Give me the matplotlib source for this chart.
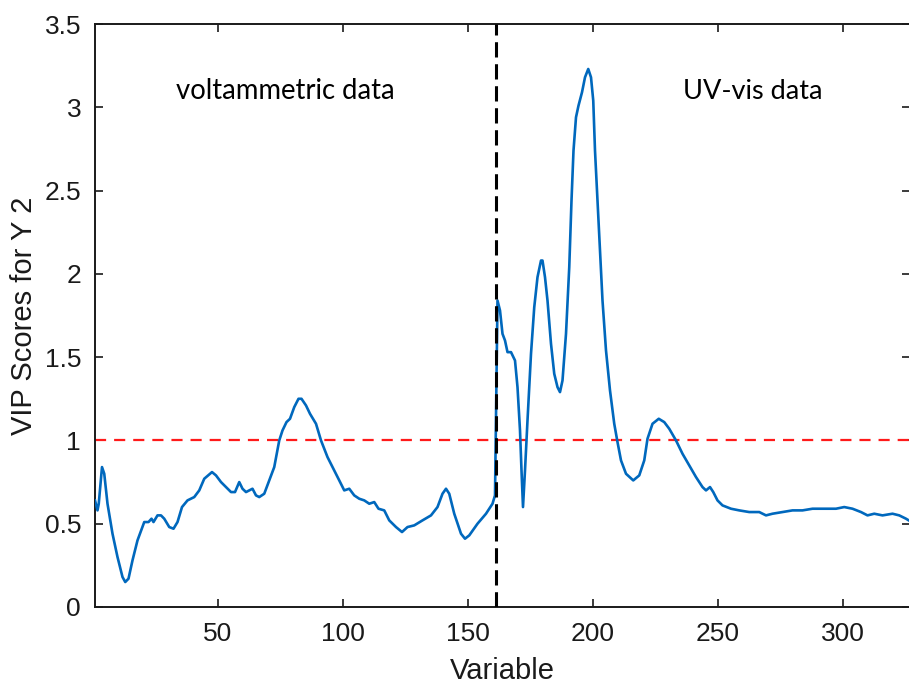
import matplotlib
matplotlib.use("Agg")
import matplotlib.pyplot as plt

# VIP scores (variable index, score)
variable = [
    1, 2, 2.5, 3.8, 4.7, 6, 8, 10, 12, 13.1, 14.4, 16, 18, 20.7, 22.4, 23.6,
    24.4, 26, 27.4, 28.7, 30.7, 32.4, 34, 35.8, 38, 40.7, 42.7, 44.7, 47.8,
    49.4, 51.4, 53.4, 55.4, 57, 58.7, 60, 61.4, 62.7, 64, 65.4, 66.7, 68.7,
    70.7, 72.7, 74.7, 76, 77.6, 79, 80.7, 82.4, 83.6, 85.4, 87, 89.4, 91.4,
    94, 96.7, 98.7, 100.7, 102.7, 104.7, 106.7, 108.7, 110.7, 112.7, 114.4,
    116.7, 118.7, 121.4, 123.8, 126, 128.7, 132, 135.4, 138, 140, 141.4,
    142.7, 144.7, 147.4, 149, 150.7, 154, 157.4, 160, 161,
    162, 163, 164, 165, 166, 167.4, 169, 170, 171, 171.6, 172.2, 173, 174,
    175.4, 176.7, 178, 179.4, 180, 181, 182, 183.4, 184.7, 186, 187, 188,
    189.4, 190.7, 191.6, 192.4, 193.4, 194.4, 195.8, 197, 198.3, 199.4,
    200.3, 201, 202, 203, 204, 205.4, 207, 208.7, 210, 211.4, 213.4, 216.3,
    218.7, 220.7, 222, 224, 226.5, 228.7, 230.7, 233.4, 236, 238.7, 241.4,
    244, 245.4, 247, 248.3, 250, 252, 255.4, 258.7, 262.7, 266.7, 269.4, 272,
    276, 280, 284, 288, 293.4, 297.4, 300.7, 304, 307.4, 310, 312.7, 316,
    320, 322.7, 325.4, 326.5,
]
vip = [
    0.64, 0.58, 0.62, 0.84, 0.80, 0.62, 0.44, 0.30, 0.18, 0.15, 0.17, 0.28,
    0.40, 0.51, 0.51, 0.53, 0.51, 0.55, 0.55, 0.53, 0.48, 0.47, 0.51, 0.60,
    0.64, 0.66, 0.70, 0.77, 0.81, 0.79, 0.75, 0.72, 0.69, 0.69, 0.75, 0.71,
    0.69, 0.70, 0.71, 0.67, 0.66, 0.68, 0.76, 0.84, 1.00, 1.06, 1.11, 1.13,
    1.20, 1.25, 1.25, 1.21, 1.16, 1.10, 1.00, 0.90, 0.82, 0.76, 0.70, 0.71,
    0.67, 0.65, 0.64, 0.62, 0.63, 0.59, 0.58, 0.52, 0.48, 0.45, 0.48, 0.49,
    0.52, 0.55, 0.60, 0.68, 0.71, 0.68, 0.56, 0.44, 0.41, 0.43, 0.50, 0.56,
    0.62, 0.67,
    1.84, 1.78, 1.64, 1.60, 1.53, 1.53, 1.48, 1.32, 1.06, 0.82, 0.60, 0.82,
    1.12, 1.52, 1.80, 1.98, 2.08, 2.08, 1.98, 1.84, 1.58, 1.40, 1.32, 1.29,
    1.36, 1.64, 2.04, 2.44, 2.74, 2.94, 3.01, 3.09, 3.18, 3.23, 3.18, 3.04,
    2.74, 2.44, 2.14, 1.84, 1.54, 1.30, 1.10, 0.99, 0.88, 0.80, 0.76, 0.79,
    0.88, 1.01, 1.10, 1.13, 1.11, 1.07, 1.00, 0.92, 0.85, 0.78, 0.72, 0.70,
    0.72, 0.69, 0.64, 0.61, 0.59, 0.58, 0.57, 0.57, 0.55, 0.56, 0.57, 0.58,
    0.58, 0.59, 0.59, 0.59, 0.60, 0.59, 0.57, 0.55, 0.56, 0.55, 0.56, 0.55,
    0.53, 0.52,
]

threshold = 1.0
split_at = 161.5
x_ticks = [50, 100, 150, 200, 250, 300]
y_ticks = [0, 0.5, 1, 1.5, 2, 2.5, 3, 3.5]
y_tick_labels = ["0", "0.5", "1", "1.5", "2", "2.5", "3", "3.5"]
block_labels = ["voltammetric data", "UV-vis data"]


def main() -> None:
    plt.rcParams["font.family"] = ["Liberation Sans", "DejaVu Sans"]
    axis_color = "#1a1a1a"

    fig = plt.figure(figsize=(9.09, 6.85), dpi=100)
    ax = fig.add_axes([95 / 909, 1 - 607 / 685, 815 / 909, 583 / 685])

    ax.plot(variable, vip, color="#0068BD", lw=1.9, zorder=3,
            solid_joinstyle="round")
    ax.axhline(threshold, color="#ff1a1a", ls=(0, (5, 3.6)), lw=1.6, zorder=2)
    ax.axvline(split_at, color="black", ls=(0, (5, 2.2)), lw=2.2, zorder=4)

    ax.set_xlim(1, 327)
    ax.set_ylim(0, 3.5)
    ax.set_xticks(x_ticks)
    ax.set_yticks(y_ticks)
    ax.set_yticklabels(y_tick_labels)
    ax.tick_params(direction="in", length=6, width=1.2, colors=axis_color,
                   labelsize=19, top=True, right=True)
    ax.tick_params(axis="x", pad=11)
    ax.tick_params(axis="y", pad=10)
    for s in ax.spines.values():
        s.set_color(axis_color)
        s.set_linewidth(1.4)

    ax.set_xlabel("Variable", fontsize=21, color=axis_color, labelpad=8)
    ax.set_ylabel("VIP Scores for Y 2", fontsize=21, color=axis_color, labelpad=5)

    text_font = ["Lato", "DejaVu Sans"]
    ax.text(33.4, 3.05, block_labels[0], fontsize=19.8, family=text_font,
            color="black", ha="left", va="baseline")
    ax.text(236.3, 3.05, block_labels[1], fontsize=19.5, family=text_font,
            color="black", ha="left", va="baseline")

    fig.savefig("out.png", dpi=100)
    plt.close(fig)


if __name__ == "__main__":
    main()
